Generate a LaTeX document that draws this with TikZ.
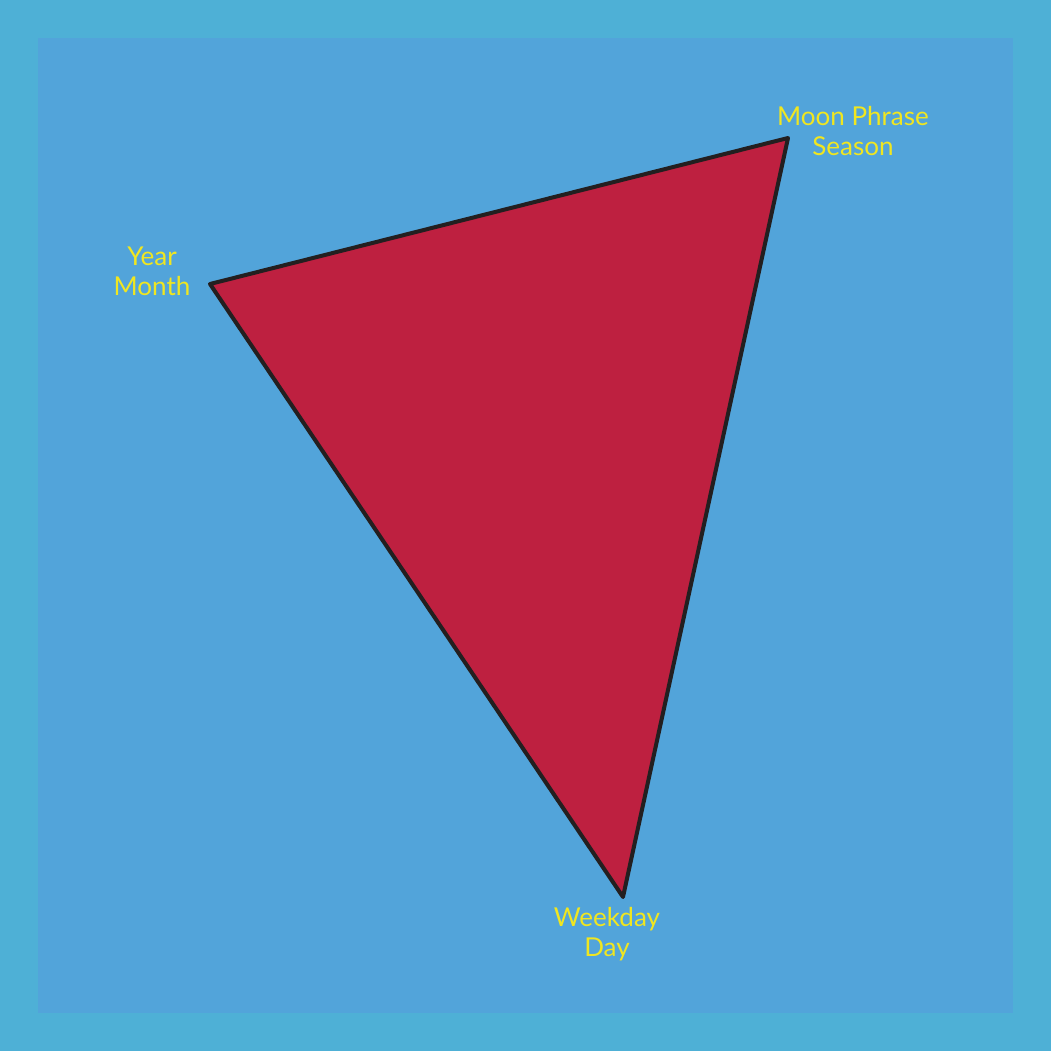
\documentclass[tikz,border=0pt]{standalone}
\usepackage{fontspec}
\setmainfont{Lato}
\definecolor{outerbg}{RGB}{78,176,214}
\definecolor{innerbg}{RGB}{82,164,218}
\definecolor{trired}{RGB}{190,32,64}
\definecolor{txtyellow}{RGB}{240,230,32}
\definecolor{edgedark}{RGB}{35,31,32}
\tikzset{
  lbl/.style={text=txtyellow, align=center, font=\fontsize{26}{30}\selectfont, inner sep=0pt},
}
\begin{document}
\begin{tikzpicture}[x=1pt,y=-1pt]
\useasboundingbox (0,0) rectangle (1051,1051);
\fill[outerbg] (0,0) rectangle (1051,1051);
\fill[innerbg] (38,38) rectangle (1013,1013);
\coordinate (ym) at (210,284);
\coordinate (mp) at (788,138);
\coordinate (wd) at (623,897);
\filldraw[fill=trired, draw=edgedark, line width=4pt, line join=round] (ym) -- (mp) -- (wd) -- cycle;
\node[lbl] (tmp) at (853,131) {Moon Phrase\\Season};
\node[lbl] (tym) at (152,271) {Year\\Month};
\node[lbl] (twd) at (607,934) {Weekday\\Day};
\end{tikzpicture}
\end{document}
